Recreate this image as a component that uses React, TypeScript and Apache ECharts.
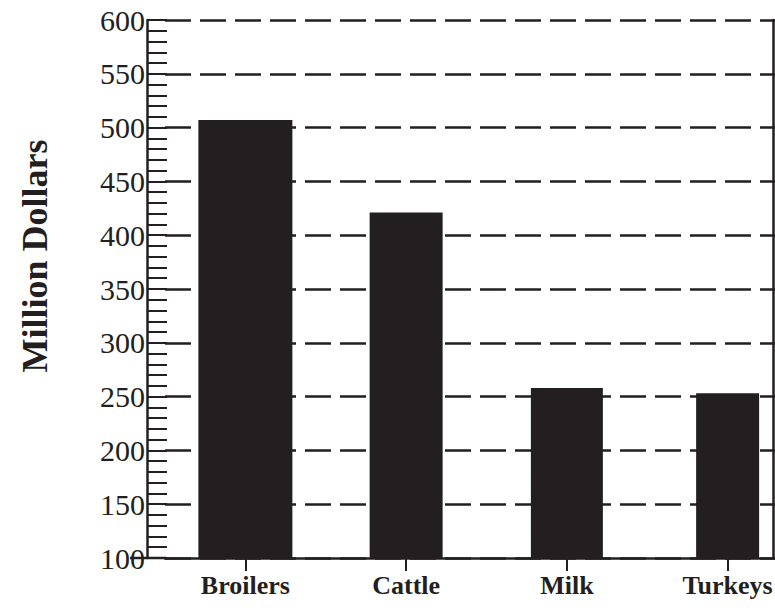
import React, { useEffect, useRef } from "react";
import * as echarts from "echarts";

const CATEGORIES = ["Broilers", "Cattle", "Milk", "Turkeys"];
const VALUES = [507, 421, 258, 253];
const Y_MIN = 100;
const Y_MAX = 600;
const Y_STEP = 50;
const Y_TITLE = "Million Dollars";

const INK = "#231f20";
const BAR_WIDTHS = [94, 73, 72, 63];

export default function App() {
  const ref = useRef<HTMLDivElement>(null);
  useEffect(() => {
    if (!ref.current) return;
    const chart = echarts.init(ref.current, undefined, { renderer: "svg" });
    chart.setOption({
      animation: false,
      backgroundColor: "#ffffff",
      grid: {
        left: 165,
        top: 20,
        width: 643,
        height: 538,
        containLabel: false,
        outerBoundsMode: "none",
      },
      xAxis: {
        type: "category",
        data: CATEGORIES,
        boundaryGap: true,
        axisLine: { show: true, lineStyle: { color: INK, width: 2.5 } },
        axisTick: { show: true, alignWithLabel: true, length: 13, lineStyle: { color: INK, width: 2 } },
        axisLabel: {
          margin: 14,
          color: INK,
          fontFamily: "Liberation Serif",
          fontWeight: "bold",
          fontSize: 26,
        },
        splitLine: { show: false },
      },
      yAxis: [
        {
          type: "value",
          min: Y_MIN,
          max: Y_MAX,
          interval: Y_STEP,
          offset: 18,
          name: Y_TITLE,
          nameLocation: "middle",
          nameGap: 94,
          nameRotate: 90,
          nameTextStyle: {
            fontFamily: "Liberation Serif",
            fontWeight: "bold",
            fontSize: 36,
            color: INK,
            padding: [0, 0, 0, 66],
          },
          axisLine: { show: true, lineStyle: { color: INK, width: 2.5 } },
          axisTick: { show: true, inside: true, length: 20, lineStyle: { color: INK, width: 2 } },
          minorTick: { show: true, splitNumber: 5, length: 20, lineStyle: { color: INK, width: 2 } },
          axisLabel: {
            margin: 2,
            color: INK,
            fontFamily: "'Liberation Serif', serif",
            fontSize: 30,
          },
          splitLine: {
            show: true,
            lineStyle: { color: INK, width: 2.5, type: [26, 9] },
          },
        },
        {
          type: "value",
          position: "right",
          min: Y_MIN,
          max: Y_MAX,
          interval: Y_STEP,
          offset: -35,
          axisLine: { show: true, lineStyle: { color: INK, width: 2.5 } },
          axisTick: { show: false },
          axisLabel: { show: false },
          splitLine: { show: false },
        },
      ],
      graphic: [
        {
          type: "line",
          shape: { x1: 130, y1: 558, x2: 166, y2: 558 },
          style: { stroke: INK, lineWidth: 2.5 },
        },
      ],
      series: [
        {
          type: "custom",
          yAxisIndex: 0,
          data: VALUES.map((v, i) => [i, v]),
          encode: { x: 0, y: 1 },
          renderItem: (params: any, api: any) => {
            const idx = api.value(0);
            const v = api.value(1);
            const top = api.coord([idx, v]);
            const base = api.coord([idx, Y_MIN]);
            const w = BAR_WIDTHS[params.dataIndex];
            return {
              type: "rect",
              shape: { x: top[0] - w / 2, y: top[1], width: w, height: base[1] - top[1] },
              style: { fill: INK },
            };
          },
        },
      ],
    });
    return () => chart.dispose();
  }, []);
  return (
    <div
      ref={ref}
      style={{ position: "absolute", left: 0, top: 0, width: 775, height: 608, overflow: "hidden" }}
    />
  );
}
